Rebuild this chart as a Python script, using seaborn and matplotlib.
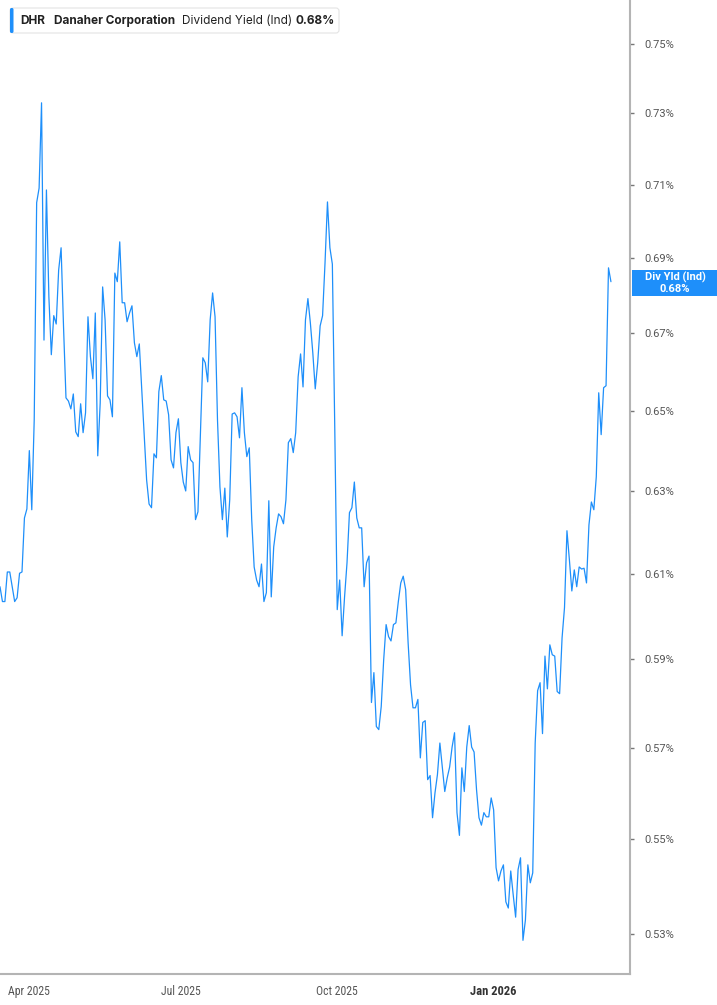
import numpy as np
import pandas as pd
import seaborn as sns
import matplotlib.pyplot as plt
from matplotlib.patches import FancyBboxPatch, Rectangle
from matplotlib.ticker import FixedLocator, NullLocator

## Datos: rendimiento por dividendo (%) de DHR, un valor por sesion
spring_2025 = [
    0.6069, 0.6034, 0.6034, 0.6104, 0.6104, 0.6069, 0.6034, 0.6043, 0.6101, 0.6104,
    0.6234, 0.6256, 0.6400, 0.6254, 0.6477, 0.7050, 0.7090, 0.7330, 0.6682, 0.7085,
    0.6796, 0.6644, 0.6746, 0.6724, 0.6867, 0.6927, 0.6716, 0.6533, 0.6525, 0.6505,
    0.6543, 0.6447, 0.6435, 0.6518, 0.6445, 0.6495, 0.6743, 0.6639, 0.6582, 0.6753,
    0.6387, 0.6520, 0.6822, 0.6735, 0.6538, 0.6528, 0.6485, 0.6859, 0.6836, 0.6943,
    0.6780, 0.6780, 0.6730, 0.6753, 0.6772, 0.6675, 0.6639, 0.6672, 0.6554, 0.6435,
    0.6327, 0.6268, 0.6259, 0.6392, 0.6382, 0.6549, 0.6590, 0.6528, 0.6525, 0.6490,
    0.6377,
]
summer_2025 = [
    0.6357, 0.6445, 0.6480, 0.6370, 0.6322, 0.6300, 0.6410, 0.6377, 0.6370, 0.6230,
    0.6249, 0.6440, 0.6636, 0.6623, 0.6574, 0.6735, 0.6806, 0.6743, 0.6477, 0.6310,
    0.6230, 0.6307, 0.6188, 0.6278, 0.6492, 0.6495, 0.6485, 0.6432, 0.6559, 0.6445,
    0.6385, 0.6407, 0.6230, 0.6116, 0.6085, 0.6069, 0.6123, 0.6034, 0.6055, 0.6276,
    0.6045, 0.6164, 0.6210, 0.6244, 0.6237, 0.6220, 0.6278, 0.6420, 0.6430, 0.6395,
    0.6445, 0.6587, 0.6646, 0.6561, 0.6735, 0.6791, 0.6727, 0.6649, 0.6556, 0.6623,
    0.6719, 0.6746, 0.6886, 0.7052, 0.6927, 0.6883, 0.6452, 0.6015, 0.6085,
]
autumn_2025 = [
    0.5954, 0.6045, 0.6126, 0.6247, 0.6259, 0.6322, 0.6234, 0.6210, 0.6210, 0.6069,
    0.6126, 0.6142, 0.5801, 0.5869, 0.5747, 0.5740, 0.5792, 0.5898, 0.5980, 0.5952,
    0.5942, 0.5980, 0.5984, 0.6034, 0.6078, 0.6094, 0.6062, 0.5938, 0.5841, 0.5789,
    0.5789, 0.5808, 0.5677, 0.5756, 0.5760, 0.5629, 0.5638, 0.5546, 0.5600, 0.5640,
    0.5710, 0.5657, 0.5603, 0.5633, 0.5657, 0.5701, 0.5733, 0.5557, 0.5508, 0.5655,
    0.5603, 0.5701, 0.5749, 0.5701, 0.5690, 0.5607, 0.5546, 0.5530, 0.5557, 0.5548,
    0.5548, 0.5589, 0.5563,
]
winter_2026 = [
    0.5439, 0.5411, 0.5432, 0.5445, 0.5367, 0.5354, 0.5432, 0.5382, 0.5335, 0.5435,
    0.5460, 0.5287, 0.5329, 0.5445, 0.5407, 0.5428, 0.5710, 0.5828, 0.5846, 0.5731,
    0.5907, 0.5832, 0.5933, 0.5910, 0.5907, 0.5826, 0.5821, 0.5949, 0.6020, 0.6203,
    0.6133, 0.6059, 0.6109, 0.6069, 0.6116, 0.6111, 0.6113, 0.6078, 0.6217, 0.6273,
    0.6254, 0.6335, 0.6546, 0.6440, 0.6559, 0.6564, 0.6873, 0.6836,
]
market_holidays = ["2025-04-18", "2025-05-26", "2025-06-19", "2025-07-04", "2025-09-01",
                   "2025-11-27", "2025-12-25", "2026-01-01", "2026-01-19", "2026-02-16"]
ytick_values = [0.53, 0.55, 0.57, 0.59, 0.61, 0.63, 0.65, 0.67, 0.69, 0.71, 0.73, 0.75]
month_starts = ["2025-04-01", "2025-07-01", "2025-10-01", "2026-01-01"]
month_labels = ["Apr 2025", "Jul 2025", "Oct 2025", "Jan 2026"]

values = spring_2025 + summer_2025 + autumn_2025 + winter_2026
days = pd.bdate_range("2025-03-14", periods=len(values) + 30)
days = days[~days.isin(pd.to_datetime(market_holidays))][:len(values)]
df = pd.DataFrame({"session": np.arange(len(values)), "date": days, "yield": values})
tick_pos = [int(days.searchsorted(pd.Timestamp(d))) for d in month_starts]

blue = "#1e8ffa"
W, H = 717, 1005
narrow = ["Roboto Condensed", "Liberation Sans Narrow", "Roboto", "DejaVu Sans"]

sns.set_theme(style="white")
plt.rcParams['font.family'] = ['Roboto', 'DejaVu Sans']

fig = plt.figure(figsize=(W / 100, H / 100), dpi=100)
ax = fig.add_axes([0, 31 / H, 630 / W, 974 / H])
sns.lineplot(data=df, x="session", y="yield", ax=ax, color=blue, linewidth=0.9)

ax.set_yscale("log")
ax.set_ylim(0.5218, 0.7630)
ax.set_xlim(0, 257.8)
ax.yaxis.set_major_locator(FixedLocator(ytick_values))
ax.yaxis.set_minor_locator(NullLocator())
ax.set_yticklabels([f"{v:.2f}%" for v in ytick_values])
ax.yaxis.tick_right()
ax.tick_params(axis="y", which="major", direction="out", length=3, width=1,
               color="#777777", pad=7, labelsize=8, labelcolor="#555555")
ax.set_xticks(tick_pos)
ax.set_xticklabels(month_labels)
ax.tick_params(axis="x", direction="out", length=4, width=1, color="#aaaaaa",
               pad=4, labelsize=8.5, labelcolor="#555555")
for t in ax.get_xticklabels():
    t.set_family(narrow)
lbl = ax.get_xticklabels()[3]
lbl.set_fontweight("bold")
lbl.set_color("#333333")
lbl.set_fontsize(9)
ax.set_xlabel("")
ax.set_ylabel("")
for sp in ["left", "top"]:
    ax.spines[sp].set_visible(False)
for sp in ["right", "bottom"]:
    ax.spines[sp].set_color("#b4b4b4")
    ax.spines[sp].set_linewidth(1.5)

# cuadro de leyenda arriba a la izquierda (coordenadas en pixeles / 100)
tr = fig.dpi_scale_trans
fig.add_artist(FancyBboxPatch((0.10, (H - 33) / 100), 3.29, 0.25,
                              boxstyle="round,pad=0,rounding_size=0.03",
                              transform=tr, fc="white", ec="#e4e4e4", lw=0.8))
fig.add_artist(FancyBboxPatch((0.10, (H - 33) / 100), 0.035, 0.25,
                              boxstyle="round,pad=0,rounding_size=0.015",
                              transform=tr, fc=blue, ec="none"))
ty = (H - 21) / 100
fig.text(0.20, ty, "DHR", transform=tr, va="center", fontsize=8.5,
         fontweight="bold", color="#222222", family=["Inter", "DejaVu Sans"])
fig.text(0.54, ty, "Danaher Corporation", transform=tr, va="center", fontsize=8.5,
         fontweight="bold", color="#222222", family=["Inter", "DejaVu Sans"])
fig.text(1.82, ty, "Dividend Yield (Ind)", transform=tr, va="center", fontsize=8.5,
         color="#222222", family=["Inter", "DejaVu Sans"])
fig.text(2.96, ty, "0.68%", transform=tr, va="center", fontsize=8.5,
         fontweight="bold", color="#222222", family=["Inter", "DejaVu Sans"])

# etiqueta del ultimo valor en el eje derecho
fig.add_artist(Rectangle((6.32, (H - 296) / 100), 0.85, 0.26, transform=tr,
                         fc=blue, ec="none"))
fig.text(6.75, (H - 277) / 100, "Div Yld (Ind)", transform=tr, ha="center",
         va="center", fontsize=8, fontweight="bold", color="white")
fig.text(6.75, (H - 289) / 100, "0.68%", transform=tr, ha="center",
         va="center", fontsize=8, fontweight="bold", color="white")

fig.savefig("out.png", dpi=100)
